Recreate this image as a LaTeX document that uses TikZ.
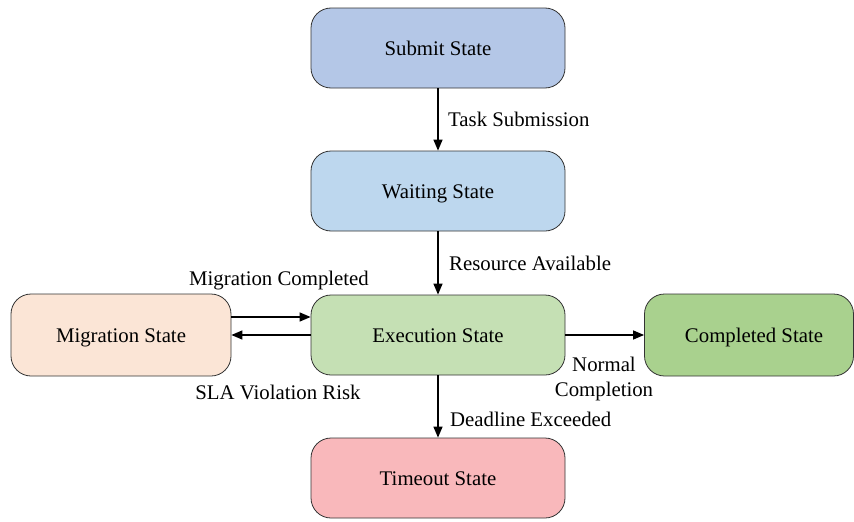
\documentclass[tikz,border=0pt]{standalone}
\usepackage{fontspec}
\setmainfont{Liberation Serif}
\usetikzlibrary{arrows.meta}
\definecolor{csubmit}{HTML}{B4C7E7}
\definecolor{cwait}{HTML}{BDD7EE}
\definecolor{cexec}{HTML}{C5E0B4}
\definecolor{cmig}{HTML}{FBE5D6}
\definecolor{cdone}{HTML}{A9D18E}
\definecolor{ctime}{HTML}{F9B8BB}
\begin{document}
\begin{tikzpicture}[x=1pt,y=-1pt,
  state/.style={draw=black!80, line width=0.8pt, rounded corners=20pt, minimum width=254pt, minimum height=80pt, inner sep=0pt, text height=14pt, text depth=0pt, font=\fontsize{20.8}{25}\selectfont},
  conn/.style={-{Triangle[length=11pt,width=9pt]}, line width=1.4pt},
  lbl/.style={font=\fontsize{20.8}{25}\selectfont, inner sep=0pt}]
\useasboundingbox (0,0) rectangle (854,522);
\node[state, fill=csubmit] (submit) at (438,48) {Submit State};
\node[state, fill=cwait] (wait) at (438,191) {Waiting State};
\node[state, fill=cexec] (exec) at (438,335) {Execution State};
\node[state, fill=ctime] (time) at (438,478) {Timeout State};
\node[state, fill=cmig, minimum width=220pt, minimum height=82pt] (mig) at (121,335) {Migration State};
\node[state, fill=cdone, minimum width=209pt, minimum height=82pt] (done) at (749,335) {\hspace*{10pt}Completed State};
\draw[conn] (submit) -- (wait);
\draw[conn] (wait) -- (exec);
\draw[conn] (exec) -- (time);
\draw[conn] (exec) -- (done);
\draw[conn] (mig.east |- 0,317) -- (exec.west |- 0,317);
\draw[conn] (exec.west |- 0,335) -- (mig.east |- 0,335);
\node[lbl, anchor=west] (l1) at (448,119) {Task Submission};
\node[lbl, anchor=west] (l2) at (449,263) {Resource Available};
\node[lbl] (l3) at (279,281) {Migration Completed};
\node[lbl] (l4) at (278,392) {SLA Violation Risk};
\node[lbl, align=center] (l5) at (604,379) {Normal\\Completion};
\node[lbl, anchor=west] (l6) at (450,419) {Deadline Exceeded};
\end{tikzpicture}
\end{document}
